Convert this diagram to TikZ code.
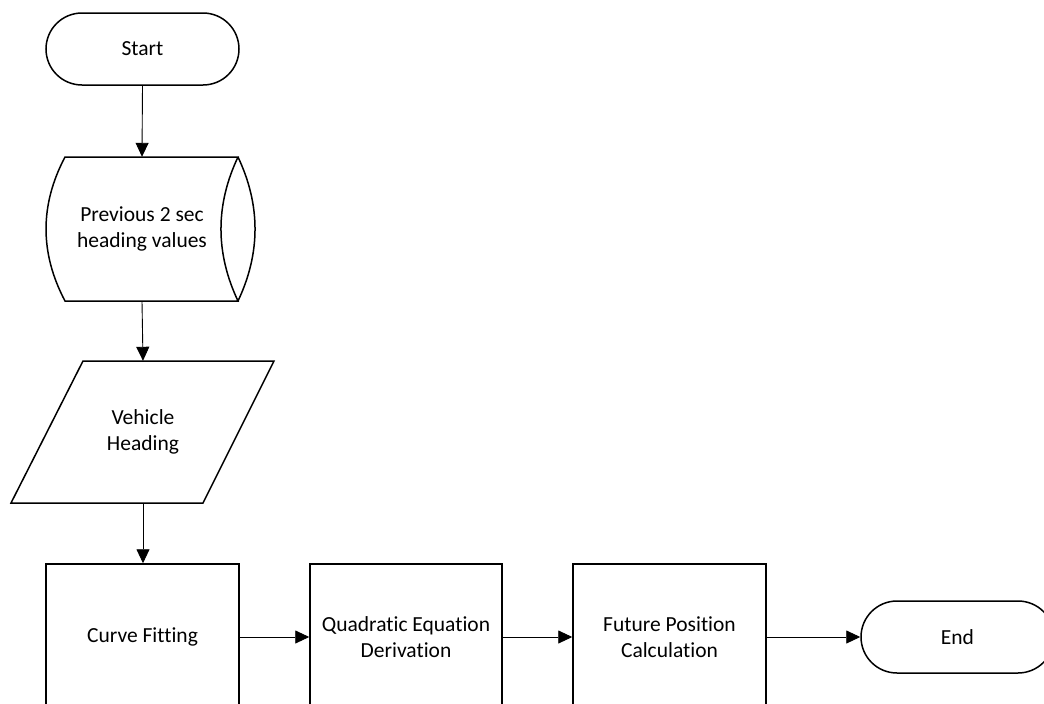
\documentclass[tikz,border=0pt]{standalone}
\usepackage{fontspec}
\setmainfont{Carlito}[RawFeature={-liga;-clig;-dlig;-calt}]
\usetikzlibrary{arrows.meta}
\begin{document}
\begin{tikzpicture}[x=1pt,y=-1pt,
  shapeline/.style={line width=1.5pt, line join=miter},
  txt/.style={font=\fontsize{21.5}{25.5}\selectfont, align=center, inner sep=0pt},
  termbox/.style={txt, shapeline, draw, rounded corners=36pt, minimum width=193pt, minimum height=72pt},
  procbox/.style={txt, shapeline, draw, minimum height=146pt},
  ghost/.style={txt, minimum width=150pt},
  conn/.style={line width=0.9pt, -{Triangle[length=14pt,width=13pt]}}]
\useasboundingbox (0,0) rectangle (1044,704);
\begin{scope}
\clip (0,0) rectangle (1044,704);
% Start
\node[termbox] (start) at (142.5,49) {Start};
% Stored data
\node[ghost, minimum height=144pt] (prev) at (142,229) {Previous 2 sec\\heading values};
\draw[shapeline] (65,157) -- (238,157)
  .. controls (215.3,205) and (215.3,253) .. (238,301)
  -- (65,301)
  .. controls (39.7,253) and (39.7,205) .. (65,157) -- cycle;
\draw[shapeline] (238,157) .. controls (260.7,205) and (260.7,253) .. (238,301);
% Parallelogram
\node[ghost, minimum height=142pt] (veh) at (143,432) {Vehicle\\Heading};
\draw[shapeline] (83,361) -- (274,361) -- (203,503) -- (11,503) -- cycle;
% Process boxes
\node[procbox, minimum width=193pt] (curve) at (142.5,637) {Curve Fitting};
\node[procbox, minimum width=192pt] (quad) at (406,637) {Quadratic Equation\\Derivation};
\node[procbox, minimum width=193pt] (future) at (669.5,637) {Future Position\\Calculation};
% End
\node[termbox] (end) at (957.5,637) {End};
% Connectors
\draw[conn] (start.south) -- (prev.north);
\draw[conn] (prev.south) -- (veh.north);
\draw[conn] (veh.south) -- (curve.north -| veh.south);
\draw[conn] (curve.east) -- (quad.west);
\draw[conn] (quad.east) -- (future.west);
\draw[conn] (future.east) -- (end.west);
\end{scope}
\end{tikzpicture}
\end{document}
